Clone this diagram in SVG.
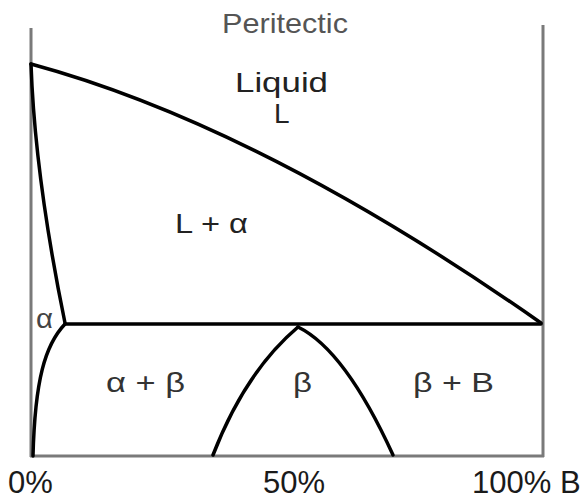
<svg xmlns="http://www.w3.org/2000/svg" width="582" height="500" viewBox="0 0 582 500">
<style>
.axis{stroke:#7a7a7a;stroke-width:3;fill:none}
.curve{stroke:#000;stroke-width:3.5;fill:none;stroke-linejoin:round;stroke-linecap:round}
.lbl{font-family:"Liberation Sans",Arial,sans-serif;fill:#222}
.big{font-size:28px}
.ax{font-size:31px;fill:#1a1a1a}
</style>
<rect width="582" height="500" fill="#fff"/>
<g id="connectors">
<path class="axis" d="M31,28 V457"/>
<path class="axis" d="M543,25 V457"/>
<path class="axis" d="M30,456 H544"/>
<path id="liquidus" class="curve" d="M31,64 Q260,126 541,323"/>
<path id="solidus" class="curve" d="M31,64 C34,150 48,240 65,323"/>
<path id="peritectic-line" class="curve" d="M65,324 H541"/>
<path id="solvus-alpha" class="curve" d="M65,324 C45,345 35,380 33,456"/>
<path id="beta-left" class="curve" d="M298,327 Q245,372 213,455"/>
<path id="beta-right" class="curve" d="M298,327 Q345,350 393,455"/>
</g>
<g id="title"><text class="lbl" x="222" y="33" font-size="28" fill="#555" style="fill:#555" textLength="126" lengthAdjust="spacingAndGlyphs">Peritectic</text></g>
<g id="liquid"><text class="lbl big" x="235" y="92" textLength="93" lengthAdjust="spacingAndGlyphs">Liquid</text>
<text class="lbl big" x="274" y="123">L</text></g>
<g id="l-alpha"><text class="lbl big" x="175" y="233" textLength="73" lengthAdjust="spacingAndGlyphs">L + α</text></g>
<g id="alpha"><text class="lbl big" x="36" y="328" fill="#444" style="fill:#444" textLength="17" lengthAdjust="spacingAndGlyphs">α</text></g>
<g id="alpha-beta"><text class="lbl big" x="106" y="392" style="fill:#333" textLength="79" lengthAdjust="spacingAndGlyphs">α + β</text></g>
<g id="beta"><text class="lbl big" x="293" y="392" style="fill:#333" textLength="19" lengthAdjust="spacingAndGlyphs">β</text></g>
<g id="beta-b"><text class="lbl big" x="413" y="392" style="fill:#333" textLength="81" lengthAdjust="spacingAndGlyphs">β + B</text></g>
<g id="axis-labels">
<text class="lbl ax" x="8" y="493">0%</text>
<text class="lbl ax" x="263" y="493">50%</text>
<text class="lbl ax" x="472" y="493">100% B</text>
</g>
</svg>
